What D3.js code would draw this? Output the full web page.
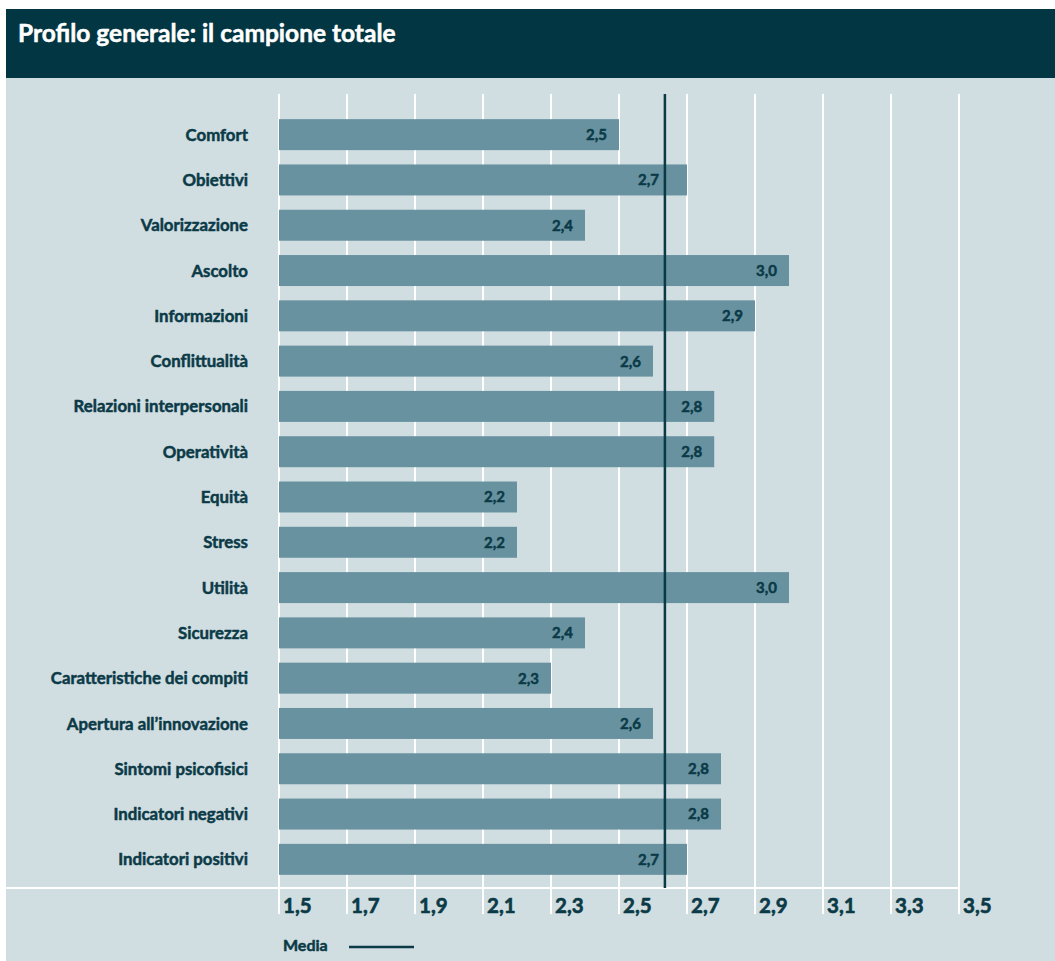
<!DOCTYPE html>
<html>
<head>
<meta charset="utf-8">
<script src="https://cdn.jsdelivr.net/npm/d3@7"></script>
<style>
  html, body { margin: 0; padding: 0; background: #ffffff; }
  svg { display: block; font-family: Lato, "Open Sans", sans-serif; }
  .heavy { paint-order: stroke; stroke-linejoin: round; }
</style>
</head>
<body>
<svg id="chart" width="1055" height="961"></svg>
<script>
// Dimensioni del profilo (punteggio medio per area)
const categories = [
  "Comfort", "Obiettivi", "Valorizzazione", "Ascolto", "Informazioni",
  "Conflittualità", "Relazioni interpersonali", "Operatività", "Equità",
  "Stress", "Utilità", "Sicurezza", "Caratteristiche dei compiti",
  "Apertura all’innovazione", "Sintomi psicofisici", "Indicatori negativi",
  "Indicatori positivi"
];
const values = [
  2.5, 2.7, 2.4, 3.0, 2.9,
  2.6, 2.78, 2.78, 2.2,
  2.2, 3.0, 2.4, 2.3,
  2.6, 2.8, 2.8,
  2.7
];
const mediaValue = 2.635;
const tickValues = [1.5, 1.7, 1.9, 2.1, 2.3, 2.5, 2.7, 2.9, 3.1, 3.3, 3.5];
const title = "Profilo generale: il campione totale";
const legendLabel = "Media";

const C = {
  banner: "#023642",
  panel: "#d0dde1",
  bar: "#6892a0",
  ink: "#0b3a47",
  grid: "#ffffff"
};

const svg = d3.select("#chart");
const fmt = v => v.toFixed(1).replace(".", ",");

// testo in grassetto pieno: contorno sottile dello stesso colore
const heavy = (sel, color, w) => sel.classed("heavy", true)
  .attr("fill", color).attr("stroke", color).attr("stroke-width", w);

// sfondo e intestazione
svg.append("rect").attr("x", 6).attr("y", 9).attr("width", 1049).attr("height", 952).attr("fill", C.panel);
svg.append("rect").attr("x", 6).attr("y", 9).attr("width", 1049).attr("height", 69).attr("fill", C.banner);
svg.append("text")
  .attr("x", 18).attr("y", 42)
  .attr("font-size", 24.5).attr("font-weight", 700)
  .text(title)
  .call(heavy, "#ffffff", 0.5);

const x = d3.scaleLinear().domain([1.5, 3.5]).range([279, 959]);
const y = d3.scaleBand().domain(categories).range([112, 882])
  .paddingInner(0.316).paddingOuter(0.158);

const plotTop = 94, baseLine = 888, tickBottom = 914;
const mx = x(mediaValue);

// griglia verticale
svg.append("g").selectAll("line").data(tickValues).join("line")
  .attr("x1", d => x(d)).attr("x2", d => x(d))
  .attr("y1", plotTop).attr("y2", tickBottom)
  .attr("stroke", C.grid).attr("stroke-width", 2);

// linea di base
svg.append("line")
  .attr("x1", 6).attr("x2", x(3.5))
  .attr("y1", baseLine).attr("y2", baseLine)
  .attr("stroke", C.grid).attr("stroke-width", 2);

// etichette dell'asse
svg.append("g").selectAll("text").data(tickValues).join("text")
  .attr("x", d => x(d) + 4).attr("y", 913)
  .attr("font-size", 20.5).attr("font-weight", 700)
  .text(fmt)
  .call(heavy, C.ink, 0.6);

// barre
svg.append("g").selectAll("rect").data(values).join("rect")
  .attr("x", x(1.5))
  .attr("y", (d, i) => y(categories[i]))
  .attr("width", d => x(d) - x(1.5))
  .attr("height", y.bandwidth())
  .attr("fill", C.bar);

// valori sulle barre: spostati a sinistra della media quando la toccano
const labelRight = d => {
  const r = x(d) - 12, w = 24;
  return (r >= mx - 4 && r - w <= mx + 4) ? mx - 6 : r;
};
svg.append("g").selectAll("text").data(values).join("text")
  .attr("x", d => labelRight(d))
  .attr("y", (d, i) => y(categories[i]) + y.bandwidth() / 2)
  .attr("dy", "0.36em")
  .attr("text-anchor", "end")
  .attr("font-size", 15).attr("font-weight", 700)
  .text(fmt)
  .call(heavy, C.ink, 0.5);

// nomi delle dimensioni
svg.append("g").selectAll("text").data(categories).join("text")
  .attr("x", 248)
  .attr("y", d => y(d) + y.bandwidth() / 2)
  .attr("dy", "0.36em")
  .attr("text-anchor", "end")
  .attr("font-size", 16.8).attr("font-weight", 700)
  .text(d => d)
  .call(heavy, C.ink, 0.5);

// linea della media
svg.append("line")
  .attr("x1", mx).attr("x2", mx)
  .attr("y1", plotTop).attr("y2", baseLine)
  .attr("stroke", C.ink).attr("stroke-width", 2.5);

// legenda
svg.append("text")
  .attr("x", 283).attr("y", 951)
  .attr("font-size", 16).attr("font-weight", 700)
  .text(legendLabel)
  .call(heavy, C.ink, 0.5);
svg.append("line")
  .attr("x1", 349).attr("x2", 414).attr("y1", 947).attr("y2", 947)
  .attr("stroke", C.ink).attr("stroke-width", 2.5);
</script>
</body>
</html>
